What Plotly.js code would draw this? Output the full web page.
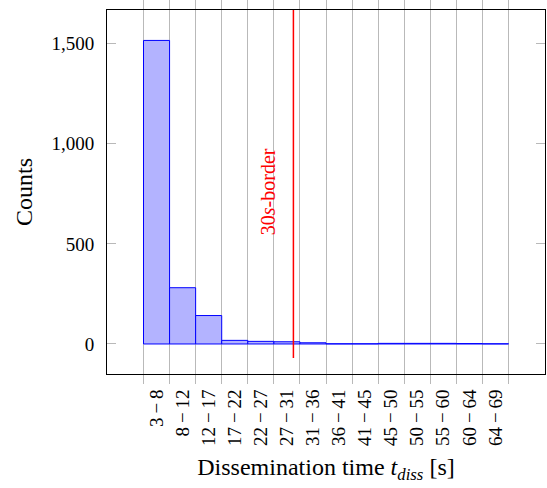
<!DOCTYPE html>
<html>
<head>
<meta charset="utf-8">
<script src="https://cdn.plot.ly/plotly-3.0.1.min.js"></script>
<style>
  html, body { margin: 0; padding: 0; background: #fff; }
  #chart { width: 547px; height: 488px; }
</style>
</head>
<body>
<div id="chart"></div>
<script>
// Histogram of dissemination times, one bar per time bin
const binLabels = ['3–8', '8–12', '12–17', '17–22', '22–27', '27–31', '31–36',
                   '36–41', '41–45', '45–50', '50–55', '55–60', '60–64', '64–69'];
const binEdges = [3, 8, 12, 17, 22, 27, 31, 36, 41, 45, 50, 55, 60, 64, 69];
const counts = [1516, 281, 142, 18, 13, 11, 6, 1, 1, 3, 3, 3, 2, 1];
const yTicks = [0, 500, 1000, 1500];
const borderSeconds = 30;

const serif = '"Liberation Serif", "DejaVu Serif", serif';
const xRange = [-1.9, 14.9];

// Typeset the range labels with a spaced minus, like math mode
const tickText = binLabels.map(s => s.replace('–', '\u2009\u2212\u2009'));

// Position of the 30 s border in bin-index units (bin i spans i-0.5 .. i+0.5)
let borderX = null;
for (let i = 0; i < binEdges.length - 1; i++) {
  if (borderSeconds >= binEdges[i] && borderSeconds <= binEdges[i + 1]) {
    borderX = i - 0.5 + (borderSeconds - binEdges[i]) / (binEdges[i + 1] - binEdges[i]);
    break;
  }
}

const gridGray = 'rgb(185,185,185)';

const bars = {
  type: 'bar',
  x: tickText,
  y: counts,
  marker: {
    color: 'rgb(179,179,255)',
    line: { color: 'rgb(0,0,255)', width: 1 }
  },
  hoverinfo: 'x+y'
};

// Border line on a hidden linear axis that shares the bin-index scale
const border = {
  type: 'scatter',
  mode: 'lines',
  xaxis: 'x2',
  yaxis: 'y',
  x: [borderX, borderX],
  y: [-70, 1668],
  line: { color: 'rgb(255,0,0)', width: 1.5 },
  hoverinfo: 'skip'
};

const layout = {
  width: 547,
  height: 488,
  margin: { l: 107, r: 2, t: 10, b: 114 },
  paper_bgcolor: '#fff',
  plot_bgcolor: '#fff',
  showlegend: false,
  bargap: 0,
  font: { family: serif, color: '#000', size: 19 },
  xaxis: {
    type: 'category',
    range: xRange,
    tickson: 'boundaries',
    tickangle: -90,
    ticks: 'outside',
    ticklen: 9,
    tickwidth: 1,
    tickcolor: gridGray,
    showgrid: true,
    gridcolor: gridGray,
    gridwidth: 1,
    showline: true,
    linecolor: '#000',
    linewidth: 1,
    mirror: 'ticks',
    zeroline: false,
    ticklabelstandoff: 7,
    tickfont: { family: serif, size: 19, color: '#000' },
    title: {
      text: 'Dissemination time <i>t<sub>diss</sub></i> [s]',
      font: { family: serif, size: 24, color: '#000' },
      standoff: 13
    }
  },
  xaxis2: {
    type: 'linear',
    overlaying: 'x',
    range: xRange,
    visible: false,
    showgrid: false,
    zeroline: false
  },
  yaxis: {
    range: [-150, 1668],
    tickvals: yTicks,
    tickformat: ',d',
    ticks: 'inside',
    ticklen: 9,
    tickwidth: 1,
    tickcolor: gridGray,
    showgrid: false,
    zeroline: false,
    showline: true,
    linecolor: '#000',
    linewidth: 1,
    mirror: 'ticks',
    ticklabelstandoff: 8,
    tickfont: { family: serif, size: 19, color: '#000' },
    title: {
      text: 'Counts',
      font: { family: serif, size: 24, color: '#000' },
      standoff: 12
    }
  },
  annotations: [{
    x: borderX,
    y: 760,
    xref: 'x2',
    yref: 'y',
    xshift: -26,
    text: '30<i>s</i>-border',
    textangle: -90,
    showarrow: false,
    font: { family: serif, size: 20, color: 'rgb(255,0,0)' }
  }]
};

Plotly.newPlot('chart', [bars, border], layout, { displayModeBar: false, staticPlot: true });
</script>
</body>
</html>
